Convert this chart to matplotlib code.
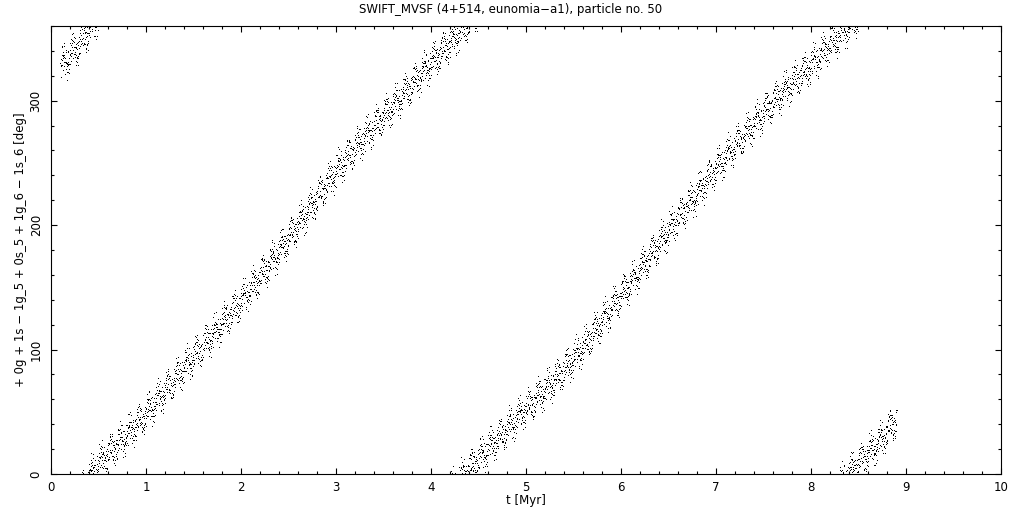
import numpy as np
import matplotlib.pyplot as plt
from matplotlib.ticker import MultipleLocator

# band centre of the resonant angle (unwrapped, deg)
center_t = [0.10, 0.30, 0.50, 0.75, 1.00, 1.25, 1.50, 1.75, 2.00, 2.25,
            2.50, 2.75, 3.00, 3.25, 3.50, 3.75, 4.00, 4.25, 4.50, 4.75,
            5.00, 5.25, 5.50, 5.75, 6.00, 6.25, 6.50, 6.75, 7.00, 7.25,
            7.50, 7.75, 8.00, 8.25, 8.50, 8.75, 8.90]
center_phi = [-33, -15, 8, 27, 48, 71, 94, 116, 138, 163,
              189, 216, 243, 266, 287, 308, 330, 350, 372, 392,
              412, 431, 452, 477, 503, 529, 555, 580, 605, 628,
              650, 670, 688, 708, 728, 748, 764]

# short-period wobble seen in the band texture (period Myr, amplitude deg)
wobble_period = [0.1, 0.0219, 0.00553]
wobble_amp = [6.0, 4.0, 7.5]
STEP = 0.002  # output step, Myr

t = np.arange(center_t[0], center_t[-1] + STEP / 2, STEP)
phi = np.interp(t, center_t, center_phi)
for p, a in zip(wobble_period, wobble_amp):
    phi = phi + a * np.sin(2 * np.pi * t / p)
phi = np.mod(phi, 360.0)

fig = plt.figure(figsize=(10.21, 5.11), dpi=100)
ax = fig.add_axes([0.04995, 0.0724, 0.9305, 0.8767])

ax.plot(t, phi, ",", color="black")

ax.set_xlim(0, 10)
ax.set_ylim(0, 360)
ax.xaxis.set_major_locator(MultipleLocator(1))
ax.xaxis.set_minor_locator(MultipleLocator(0.2))
ax.yaxis.set_major_locator(MultipleLocator(100))
ax.yaxis.set_minor_locator(MultipleLocator(20))
ax.tick_params(which="both", direction="in", top=True, right=True,
               width=0.8, labelsize=8.5)
ax.tick_params(which="major", length=4.5)
ax.tick_params(which="minor", length=2.2)
ax.tick_params(axis="x", pad=5)
ax.tick_params(axis="y", pad=6)
for lab in ax.get_yticklabels():
    lab.set_rotation(90)
    lab.set_va("center")
for s in ax.spines.values():
    s.set_linewidth(0.8)

ax.set_xlabel("t [Myr]", fontsize=8.5, labelpad=0)
ax.set_ylabel("+ 0g + 1s \u2212 1g_5 + 0s_5 + 1g_6 \u2212 1s_6 [deg]",
              fontsize=8.5, labelpad=2)
fig.text(0.5, 0.982, "SWIFT_MVSF (4+514, eunomia\u2212a1), particle no. 50",
         ha="center", va="center", fontsize=8.5)

plt.savefig("out.png", dpi=100)
